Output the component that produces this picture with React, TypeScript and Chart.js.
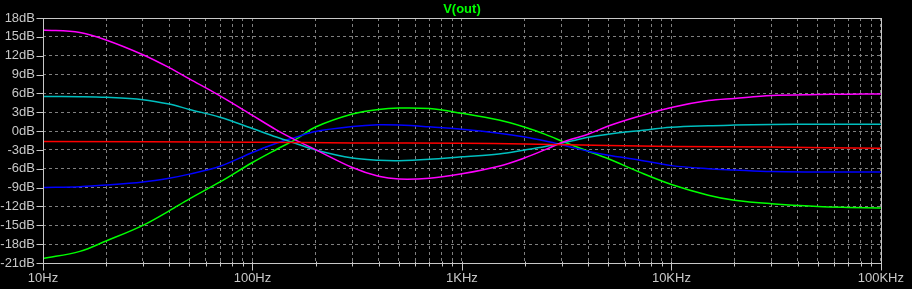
import React, { useEffect, useRef } from "react";
import { Chart, registerables } from "chart.js";

Chart.register(...registerables);

// ---- data ----
const freqs = [10, 15, 20, 30, 40, 50, 70, 100, 130, 160, 200, 300, 400, 500, 700, 1000, 1500, 2000, 2500, 3160, 4000, 5000, 7000, 10000, 15000, 20000, 30000, 50000, 70000, 100000];
const magentaDb = [16.09, 15.7, 14.5, 12.15, 10.1, 8.3, 5.6, 2.5, 0.2, -1.4, -2.95, -5.8, -7.2, -7.63, -7.5, -6.8, -5.6, -4.25, -2.95, -1.55, -0.5, 0.8, 2.35, 3.75, 4.85, 5.2, 5.65, 5.82, 5.88, 5.9];
const cyanDb = [5.52, 5.48, 5.38, 5.0, 4.3, 3.45, 2.2, 0.4, -0.95, -1.95, -3.0, -4.3, -4.65, -4.72, -4.5, -4.1, -3.65, -3.0, -2.45, -1.75, -1.0, -0.5, 0.06, 0.6, 0.85, 0.95, 1.05, 1.1, 1.1, 1.1];
const blueDb = [-8.97, -8.85, -8.6, -8.1, -7.5, -6.85, -5.6, -3.4, -1.95, -1.0, -0.06, 0.72, 1.0, 0.95, 0.67, 0.3, -0.33, -0.94, -1.58, -2.37, -3.2, -3.85, -4.6, -5.5, -6.0, -6.2, -6.45, -6.5, -6.5, -6.5];
const greenDb = [-20.3, -19.15, -17.5, -15.0, -12.7, -10.8, -8.1, -5.0, -2.93, -1.37, 0.65, 2.72, 3.45, 3.67, 3.58, 2.82, 1.75, 0.6, -0.52, -1.9, -3.2, -4.4, -6.5, -8.5, -10.2, -11.0, -11.56, -12.0, -12.15, -12.25];
const redFreqs = [10, 100, 300, 1000, 2000, 5000, 10000, 30000, 100000];
const redDb = [-1.64, -1.78, -1.88, -1.95, -2.05, -2.3, -2.44, -2.55, -2.75];

// ---- axes ----
const xDecades = [10, 100, 1000, 10000, 100000];
const xDecadeLabels = ["10Hz", "100Hz", "1KHz", "10KHz", "100KHz"];
const xMinorMultipliers = [2, 3, 4, 5, 6, 7, 8, 9];
const yTicks = [18, 15, 12, 9, 6, 3, 0, -3, -6, -9, -12, -15, -18, -21];
const yUnit = "dB";
const titleText = "V(out)";

const FONT = "'Liberation Sans', Arial, sans-serif";
const LABEL_COLOR = "#c8c8c8";
const GRID_COLOR = "#808080";
const FRAME_COLOR = "#c8c8c8";

const xTickValues: number[] = [];
xDecades.forEach((d, i) => {
  xTickValues.push(d);
  if (i < xDecades.length - 1) xMinorMultipliers.forEach((m) => xTickValues.push(d * m));
});

const toPts = (xs: number[], ys: number[]) => xs.map((x, i) => ({ x, y: ys[i] }));

const ltspicePlugin = {
  id: "ltspice",
  beforeDraw(chart: any) {
    const { ctx, width, height } = chart;
    ctx.save();
    ctx.fillStyle = "#000";
    ctx.fillRect(0, 0, width, height);
    ctx.restore();
  },
  afterDraw(chart: any) {
    const { ctx, chartArea: a, scales } = chart;
    ctx.save();
    ctx.strokeStyle = FRAME_COLOR;
    ctx.lineWidth = 1;
    const L = Math.round(a.left) + 0.5;
    const R = Math.round(a.right) + 0.5;
    const T = Math.round(a.top) + 0.5;
    const B = Math.round(a.bottom) + 0.5;
    ctx.strokeRect(L, T, R - L, B - T);
    ctx.beginPath();
    scales.x.ticks.forEach((t: any) => {
      const px = Math.round(scales.x.getPixelForValue(t.value)) + 0.5;
      const major = xDecades.includes(t.value);
      ctx.moveTo(px, B - 2);
      ctx.lineTo(px, B + (major ? 7 : 3));
    });
    scales.y.ticks.forEach((t: any) => {
      const py = Math.round(scales.y.getPixelForValue(t.value)) + 0.5;
      ctx.moveTo(L - 7, py);
      ctx.lineTo(L, py);
    });
    ctx.stroke();
    ctx.fillStyle = "#00ff00";
    ctx.font = `bold 13px ${FONT}`;
    ctx.textAlign = "center";
    ctx.textBaseline = "middle";
    ctx.fillText(titleText, (a.left + a.right) / 2, 9);
    ctx.restore();
  },
};

export default function App() {
  const ref = useRef<HTMLCanvasElement | null>(null);
  useEffect(() => {
    if (!ref.current) return;
    const mk = (label: string, data: any[], color: string) => ({
      label,
      data,
      borderColor: color,
      backgroundColor: color,
      borderWidth: 1.5,
      pointRadius: 0,
      fill: false,
      tension: 0.35,
    });
    const chart = new Chart(ref.current, {
      type: "line",
      data: {
        datasets: [
          mk("red", toPts(redFreqs, redDb), "#ff0000"),
          mk("magenta", toPts(freqs, magentaDb), "#ff00ff"),
          mk("cyan", toPts(freqs, cyanDb), "#00bfbf"),
          mk("blue", toPts(freqs, blueDb), "#0000ff"),
          mk("green", toPts(freqs, greenDb), "#00ff00"),
        ],
      },
      options: {
        animation: false,
        responsive: true,
        maintainAspectRatio: false,
        layout: { padding: { top: 18, right: 29, left: 0, bottom: 0 } },
        plugins: { legend: { display: false }, tooltip: { enabled: false }, title: { display: false } },
        scales: {
          x: {
            type: "logarithmic",
            min: 10,
            max: 100000,
            afterBuildTicks: (scale: any) => {
              scale.ticks = xTickValues.map((v) => ({ value: v }));
            },
            afterFit: (scale: any) => {
              scale.height = 26;
            },
            ticks: {
              autoSkip: false,
              maxRotation: 0,
              minRotation: 0,
              padding: 8,
              color: LABEL_COLOR,
              font: { family: FONT, size: 13 },
              callback: (v: any) => {
                const i = xDecades.indexOf(Number(v));
                return i >= 0 ? xDecadeLabels[i] : "";
              },
            },
            grid: { color: GRID_COLOR, drawTicks: false, lineWidth: 1 },
            border: { display: false, dash: [3, 3] },
          },
          y: {
            type: "linear",
            min: -21,
            max: 18,
            afterBuildTicks: (scale: any) => {
              scale.ticks = yTicks.map((v) => ({ value: v }));
            },
            afterFit: (scale: any) => {
              scale.width = 43;
            },
            ticks: {
              autoSkip: false,
              padding: 8,
              color: LABEL_COLOR,
              font: { family: FONT, size: 13 },
              callback: (v: any) => `${v}${yUnit}`,
            },
            grid: { color: GRID_COLOR, drawTicks: false, lineWidth: 1 },
            border: { display: false, dash: [3, 3] },
          },
        },
      },
      plugins: [ltspicePlugin],
    });
    return () => chart.destroy();
  }, []);
  return (
    <div style={{ position: "fixed", left: 0, top: 0, width: 912, height: 289, background: "#000" }}>
      <canvas ref={ref} />
    </div>
  );
}
